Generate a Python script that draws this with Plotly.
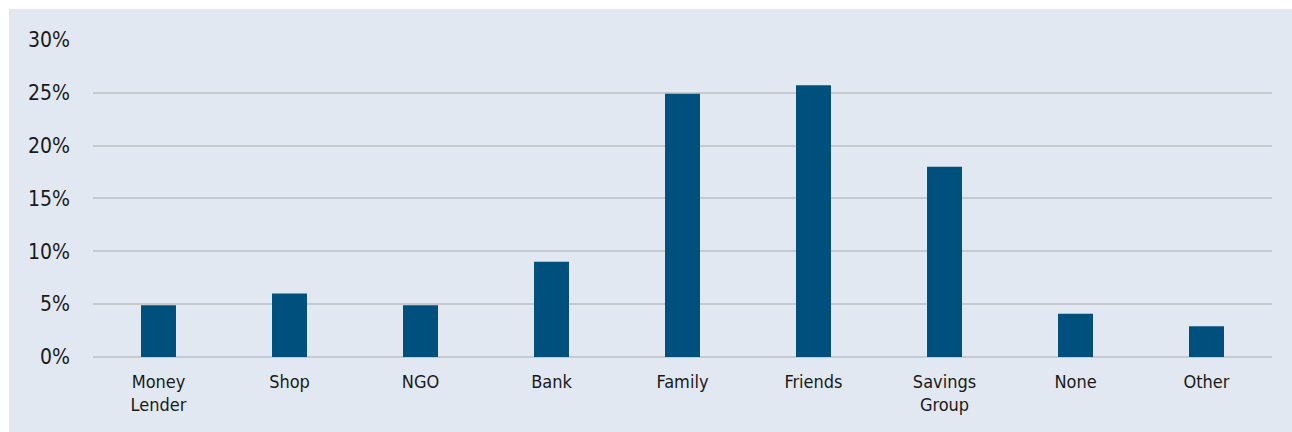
import plotly.graph_objects as go

categories = ["Money<br>Lender", "Shop", "NGO", "Bank", "Family", "Friends", "Savings<br>Group", "None", "Other"]
values = [0.049, 0.060, 0.049, 0.090, 0.249, 0.257, 0.180, 0.041, 0.029]
y_ticks = [0, 0.05, 0.10, 0.15, 0.20, 0.25, 0.30]
y_tick_labels = ["0%", "5%", "10%", "15%", "20%", "25%", "30%"]

FONT = "DejaVu Sans Condensed, DejaVu Sans, sans-serif"
BG = "#E1E8F1"

fig = go.Figure()
fig.add_trace(go.Bar(x=categories, y=values, marker=dict(color="#00507D", line=dict(width=0)), width=0.267))

W, H = 1292, 432
ml, mr, mt, mb = 93, 20, 39, 75
pw, ph = W - ml - mr, H - mt - mb

# white strips along the left and top edges
fig.add_shape(type="rect", xref="paper", yref="paper", layer="below",
              x0=(-20 - ml) / pw, x1=(9 - ml) / pw, y0=-0.5, y1=1.5,
              fillcolor="white", line=dict(width=0))
fig.add_shape(type="rect", xref="paper", yref="paper", layer="below",
              x0=-0.5, x1=1.5, y0=(H - mb - 9) / ph, y1=(H - mb + 20) / ph,
              fillcolor="white", line=dict(width=0))

fig.update_layout(
    width=W, height=H,
    margin=dict(l=ml, r=mr, t=mt, b=mb),
    paper_bgcolor=BG, plot_bgcolor="rgba(0,0,0,0)",
    showlegend=False,
    font=dict(family=FONT, color="#1a1a1a"),
    bargap=0.733,
)
fig.update_xaxes(tickfont=dict(size=18, family=FONT, color="#1a1a1a"), showgrid=False,
                 showline=False, ticks="", ticklabelstandoff=12)
fig.update_yaxes(range=[0, 0.3008], tickvals=y_ticks, ticktext=y_tick_labels,
                 tickfont=dict(size=21, family=FONT, color="#1a1a1a"),
                 showgrid=True, gridcolor="#C6C9CD", gridwidth=1.5,
                 zeroline=True, zerolinecolor="#C6C9CD", zerolinewidth=1.5,
                 showline=False, ticks="", ticklabelstandoff=22)

fig.write_html("out.html",
               post_script="document.body.style.margin='0';document.body.style.background='%s';" % BG)
